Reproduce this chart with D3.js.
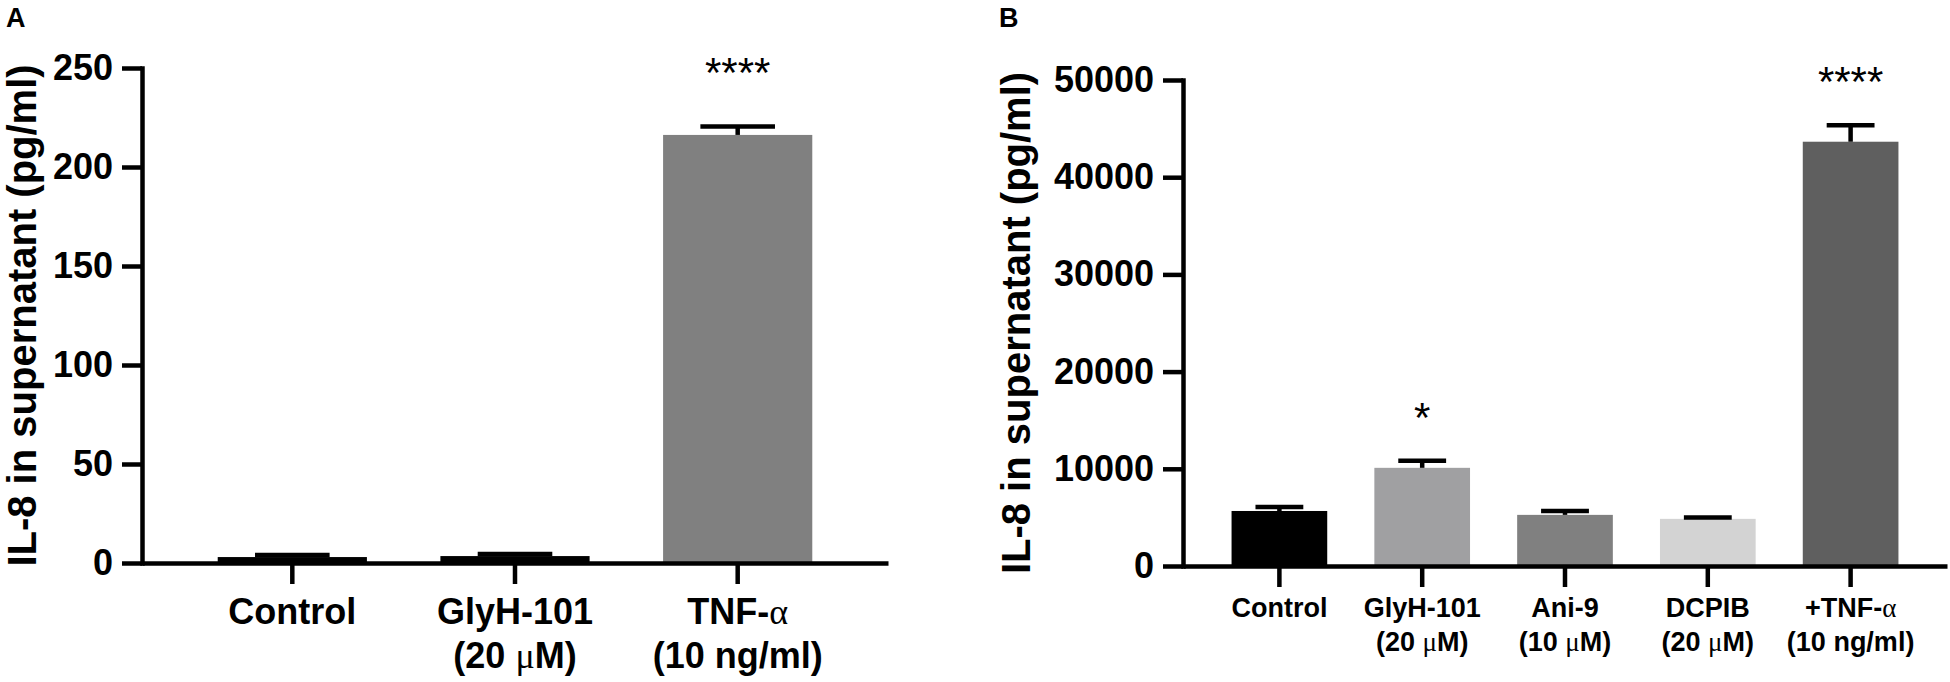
<!DOCTYPE html>
<html><head><meta charset="utf-8">
<script src="https://cdn.jsdelivr.net/npm/d3@7"></script>
<style>body{margin:0;background:#fff}svg{display:block}</style>
</head><body><svg id="c" width="1950" height="682"></svg>
<script>
// ---- Panel A data ----
const catsA = ["Control", "GlyH-101|(20 μM)", "TNF-α|(10 ng/ml)"];
const meansA = [3.0, 3.5, 216.2];
const errsA = [1.0, 1.0, 4.2];
const colorsA = ["#000000", "#000000", "#808080"];
const sigA = ["", "", "****"];
const ticksA = [0, 50, 100, 150, 200, 250];

// ---- Panel B data ----
const catsB = ["Control", "GlyH-101|(20 μM)", "Ani-9|(10 μM)", "DCPIB|(20 μM)", "+TNF-α|(10 ng/ml)"];
const meansB = [5660, 10100, 5260, 4850, 43650];
const errsB = [410, 720, 410, 150, 1700];
const colorsB = ["#000000", "#a0a0a2", "#808080", "#d3d3d3", "#5f5f5f"];
const sigB = ["", "*", "", "", "****"];
const ticksB = [0, 10000, 20000, 30000, 40000, 50000];

const yTitle = "IL-8 in supernatant (pg/ml)";
const FONT = "'Liberation Sans', Arial, Helvetica, sans-serif";
const SERIF = "'Liberation Serif', 'Times New Roman', serif";

const svg = d3.select("#c");
svg.append("rect").attr("width", 1950).attr("height", 682).attr("fill", "#fff");

function addLabel(textSel, label, y1, y2) {
  textSel.text(null);
  const lines = label.split("|");
  lines.forEach((ln, li) => {
    const t = textSel.append("tspan").attr("x", 0).attr("y", li === 0 ? y1 : y2);
    const parts = ln.split(/([μα])/).filter(s => s.length);
    parts.forEach(p => {
      const s = t.append("tspan").text(p);
      if (p === "μ" || p === "α") s.attr("font-family", SERIF).attr("font-weight", "normal");
    });
  });
}

function panel(cfg, cats, means, errs, colors, sig, ticks) {
  const g = svg.append("g");
  const x = d3.scaleBand().domain(cats).range([cfg.x0, cfg.x1])
    .paddingInner(0.33).paddingOuter(0.34);
  const y = d3.scaleLinear().domain([0, cfg.max]).range([cfg.y0, cfg.y1]);
  const bw = x.bandwidth();
  const cx = d => x(d) + bw / 2;

  // bars
  g.selectAll("rect.bar").data(cats).join("rect").attr("class", "bar")
    .attr("x", d => x(d)).attr("width", bw)
    .attr("y", (d, i) => y(means[i]))
    .attr("height", (d, i) => y(0) - y(means[i]))
    .attr("fill", (d, i) => colors[i]);

  // error bars (upper only)
  g.selectAll("line.whisk").data(cats).join("line").attr("class", "whisk")
    .attr("x1", cx).attr("x2", cx)
    .attr("y1", (d, i) => y(means[i]))
    .attr("y2", (d, i) => y(means[i] + errs[i]))
    .attr("stroke", "#000").attr("stroke-width", 4.5);
  g.selectAll("line.cap").data(cats).join("line").attr("class", "cap")
    .attr("x1", d => cx(d) - bw / 4).attr("x2", d => cx(d) + bw / 4)
    .attr("y1", (d, i) => y(means[i] + errs[i]))
    .attr("y2", (d, i) => y(means[i] + errs[i]))
    .attr("stroke", "#000").attr("stroke-width", 4.5);

  // significance
  g.selectAll("text.sig").data(cats).join("text").attr("class", "sig")
    .attr("x", cx)
    .attr("y", (d, i) => y(means[i] + errs[i]) - cfg.sigOff)
    .attr("text-anchor", "middle")
    .attr("font-family", FONT).attr("font-size", 42)
    .text((d, i) => sig[i]);

  // y axis
  const ya = g.append("g").attr("transform", `translate(${cfg.x0},0)`)
    .call(d3.axisLeft(y).tickValues(ticks).tickFormat(d3.format("d"))
      .tickSize(20).tickSizeOuter(0).tickPadding(9));
  ya.attr("font-family", FONT).attr("font-size", 36).attr("font-weight", "bold");
  ya.select(".domain").attr("stroke-width", 4.5).attr("stroke-linecap", "square");
  ya.selectAll(".tick line").attr("stroke-width", 4.5);
  ya.selectAll(".tick text").attr("fill", "#000");

  // x axis
  const xa = g.append("g").attr("transform", `translate(0,${cfg.y0})`)
    .call(d3.axisBottom(x).tickSize(21).tickSizeOuter(0));
  xa.attr("font-family", FONT).attr("font-size", cfg.labFont).attr("font-weight", "bold");
  xa.select(".domain").attr("stroke-width", 4.5);
  xa.selectAll(".tick line").attr("stroke-width", 4.5);
  xa.selectAll(".tick text").attr("fill", "#000").attr("dy", null)
    .each(function (d) { addLabel(d3.select(this), d, cfg.lab1, cfg.lab2); });

  // y title
  svg.append("text")
    .attr("transform", `translate(${cfg.titleX},${(cfg.y0 + cfg.y1) / 2}) rotate(-90)`)
    .attr("text-anchor", "middle")
    .attr("font-family", FONT).attr("font-size", 40).attr("font-weight", "bold")
    .text(yTitle);

  // panel letter
  svg.append("text").attr("x", cfg.letterX).attr("y", 27)
    .attr("font-family", FONT).attr("font-size", 27).attr("font-weight", "bold")
    .text(cfg.letter);
}

panel({x0: 142, x1: 888, y0: 563, y1: 68, max: 250, labFont: 36, lab1: 61, lab2: 105,
       titleX: 36, letterX: 6, letter: "A", sigOff: 40},
      catsA, meansA, errsA, colorsA, sigA, ticksA);
panel({x0: 1183, x1: 1947, y0: 566, y1: 80, max: 50000, labFont: 27, lab1: 51, lab2: 85,
       titleX: 1030, letterX: 999, letter: "B", sigOff: 29},
      catsB, meansB, errsB, colorsB, sigB, ticksB);
</script></body></html>
